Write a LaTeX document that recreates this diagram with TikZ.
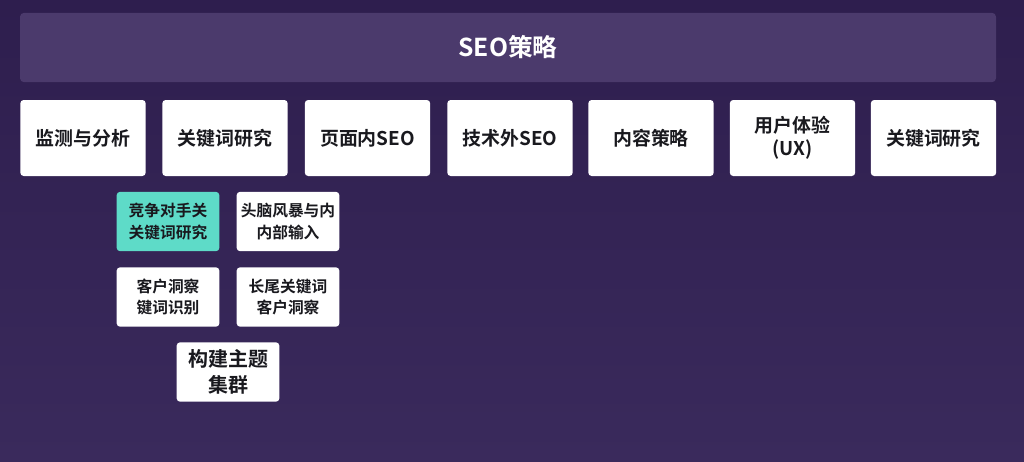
\documentclass[tikz,border=0pt]{standalone}
\usepackage{fontspec}
\setmainfont{Noto Sans CJK SC}[BoldFont={Noto Sans CJK SC Bold}]
\usetikzlibrary{positioning}
\definecolor{bgtop}{RGB}{46,30,78}
\definecolor{bgbot}{RGB}{58,42,92}
\definecolor{banner}{RGB}{75,58,108}
\definecolor{teal}{RGB}{94,219,200}
\definecolor{ink}{RGB}{25,25,30}
\tikzstyle{every box} = [rounded corners=2.5pt, inner sep=0pt, align=center, font=\bfseries]
\tikzstyle{mainbox} = [draw=none, fill=white, text=ink, minimum width=94pt, minimum height=57pt, every box, font=\fontsize{14.2}{17}\bfseries]
\tikzstyle{subbox} = [fill=white, text=ink, minimum width=77pt, minimum height=44.5pt, every box, font=\fontsize{11.8}{16}\bfseries]

\begin{document}
\begin{tikzpicture}[x=0.75pt, y=-0.75pt]
        \useasboundingbox (0,0) rectangle (1024,461);
        \shade[top color=bgtop, bottom color=bgbot] (0,0) rectangle (1024,461);
        \node[fill=banner, rounded corners=3pt, minimum width=732pt, minimum height=52pt, text=white, font=\fontsize{18.5}{22}\bfseries] (celue) at (508,47.5) {SEO策略};
        \node[mainbox] (jiance) at (83,138) {监测与分析};
        \node[mainbox] (yanjiu) at (225,138) {关键词研究};
        \node[mainbox] (yemian) at (367.5,138) {页面内SEO};
        \node[mainbox] (jishu) at (510,138) {技术外SEO};
        \node[mainbox] (neirong) at (651,138) {内容策略};
        \node[mainbox] (yonghu) at (792.5,138) {用户体验\\(UX)};
        \node[mainbox] (yanjiub) at (933.5,138) {关键词研究};
        \node[subbox, fill=teal] (jingzheng) at (168,221.5) {竞争对手关\\关键词研究};
        \node[subbox] (tounao) at (288,221.5) {头脑风暴与内\\内部输入};
        \node[subbox] (kehu) at (168,297) {客户洞察\\键词识别};
        \node[subbox] (changwei) at (288,297) {长尾关键词\\客户洞察};
        \node[subbox, font=\fontsize{15}{19}\bfseries] (zhuti) at (228,372) {构建主题\\集群};

    \end{tikzpicture}
\end{document}
